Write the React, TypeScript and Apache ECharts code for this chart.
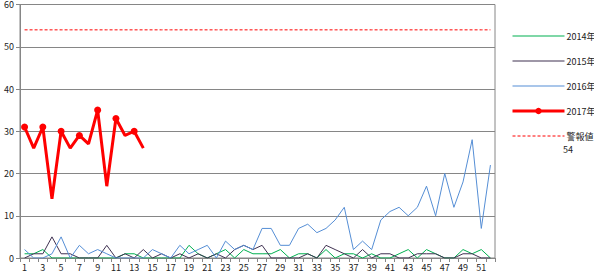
import React, { useEffect, useRef } from "react";
import * as echarts from "echarts";

const weeks: string[] = Array.from({ length: 52 }, (_, i) => String(i + 1));

const y2014: number[] = [1, 1, 2, 0, 0, 0, 0, 0, 0, 0, 0, 1, 1, 0, 0, 0, 0, 0, 3, 1, 0, 1, 2, 0, 2, 1, 1, 1, 2, 0, 1, 1, 0, 2, 0, 1, 1, 0, 1, 0, 0, 1, 2, 0, 2, 1, 0, 0, 2, 1, 2, 0];
const y2015: number[] = [0, 1, 1, 5, 1, 1, 0, 0, 0, 3, 0, 1, 0, 2, 0, 1, 0, 1, 0, 1, 0, 1, 0, 2, 3, 2, 3, 0, 0, 0, 0, 1, 0, 3, 2, 1, 0, 2, 0, 1, 1, 0, 0, 1, 1, 1, 0, 0, 1, 1, 0, 0];
const y2016: number[] = [2, 0, 0, 1, 5, 0, 3, 1, 2, 1, 0, 0, 0, 0, 2, 1, 0, 3, 1, 2, 3, 0, 4, 2, 3, 2, 7, 7, 3, 3, 7, 8, 6, 7, 9, 12, 2, 4, 2, 9, 11, 12, 10, 12, 17, 10, 20, 12, 18, 28, 7, 22];
const y2017: number[] = [31, 26, 31, 14, 30, 26, 29, 27, 35, 17, 33, 29, 30, 26];
const alertValue = 54;
const alertLine: number[] = weeks.map(() => alertValue);

const FONT = '"Noto Sans CJK JP", "Noto Sans", sans-serif';
const GRID = "#868686";
const C14 = "#00B050";
const C15 = "#3F3151";
const C16 = "#558ED5";
const RED = "#FF0000";

export default function App() {
  const ref = useRef<HTMLDivElement>(null);
  useEffect(() => {
    if (!ref.current) return;
    const chart = echarts.init(ref.current, undefined, { renderer: "svg" });
    chart.setOption({
      animation: false,
      textStyle: { fontFamily: FONT },
      grid: { left: 20, right: 99, top: 3, bottom: 17, show: true, borderColor: GRID, borderWidth: 1 },
      legend: {
        orient: "vertical",
        left: 506,
        top: 25,
        itemWidth: 52,
        itemHeight: 8,
        itemGap: 13,
        textStyle: { fontSize: 9, lineHeight: 12, color: "#222", fontFamily: FONT, padding: [0, 0, 0, -3] },
        data: [
          { name: "2014年", itemStyle: { opacity: 0 }, lineStyle: { width: 1.2, color: C14 } },
          { name: "2015年", itemStyle: { opacity: 0 }, lineStyle: { width: 1.2, color: C15 } },
          { name: "2016年", itemStyle: { opacity: 0 }, lineStyle: { width: 1.2, color: C16 } },
          { name: "2017年", lineStyle: { width: 3, color: RED } },
          { name: "警報値", itemStyle: { opacity: 0 }, lineStyle: { width: 1, color: RED, type: [3, 2] } },
        ],
      },
      graphic: [
        { type: "text", left: 563, top: 145, style: { text: String(alertValue), fontSize: 9, fill: "#222", fontFamily: FONT } },
      ],
      xAxis: {
        type: "category",
        data: weeks,
        boundaryGap: true,
        axisLine: { lineStyle: { color: GRID } },
        axisTick: { show: true, interval: 0, length: 4, lineStyle: { color: GRID } },
        axisLabel: { interval: 1, fontSize: 9, color: "#222", margin: 5, fontFamily: FONT },
      },
      yAxis: {
        type: "value",
        min: 0,
        max: 60,
        interval: 10,
        axisLine: { show: true, lineStyle: { color: GRID } },
        axisTick: { show: true, length: 4, lineStyle: { color: GRID } },
        axisLabel: { fontSize: 9, color: "#222", margin: 6, fontFamily: FONT },
        splitLine: { lineStyle: { color: GRID, width: 1 } },
      },
      series: [
        { name: "2014年", type: "line", data: y2014, symbol: "none", lineStyle: { color: C14, width: 1 }, itemStyle: { color: C14 } },
        { name: "2015年", type: "line", data: y2015, symbol: "none", lineStyle: { color: C15, width: 1 }, itemStyle: { color: C15 } },
        { name: "2016年", type: "line", data: y2016, symbol: "none", lineStyle: { color: C16, width: 1 }, itemStyle: { color: C16 } },
        { name: "2017年", type: "line", data: y2017, symbol: "circle", symbolSize: 7, lineStyle: { color: RED, width: 3 }, itemStyle: { color: RED } },
        { name: "警報値", type: "line", data: alertLine, symbol: "none", lineStyle: { color: RED, width: 1, type: [3, 2] }, itemStyle: { color: RED } },
      ],
    });
    return () => chart.dispose();
  }, []);
  return <div ref={ref} style={{ width: 594, height: 275, position: "absolute", left: 0, top: 0 }} />;
}
